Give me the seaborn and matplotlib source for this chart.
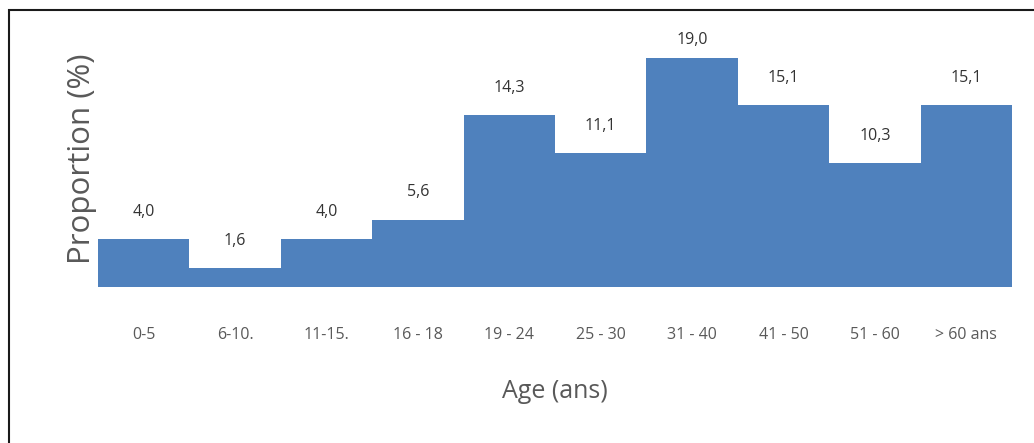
import matplotlib
matplotlib.use("Agg")
import matplotlib.pyplot as plt
import seaborn as sns
import pandas as pd

# age groups and proportions
age_groups = ['0-5', '6-10.', '11-15.', '16 - 18', '19 - 24', '25 - 30',
              '31 - 40', '41 - 50', '51 - 60', '> 60 ans']
proportions = [4.0, 1.6, 4.0, 5.6, 14.3, 11.1, 19.0, 15.1, 10.3, 15.1]

df = pd.DataFrame({'Age': age_groups, 'Proportion': proportions})

sns.set_style('white')
plt.rcParams['font.family'] = ['Open Sans', 'DejaVu Sans']

fig = plt.figure(figsize=(10.34, 4.43), dpi=100)
ax = fig.add_axes([0.0948, 0.352, 0.8839, 0.580])

sns.barplot(data=df, x='Age', y='Proportion', color='#4F81BD',
            width=1.0, saturation=1, linewidth=0, ax=ax)

ax.set_xlim(-0.5, 9.5)
ax.set_ylim(0, 21.3)
ax.axhline(0, color='#D9D9D9', lw=1.2, zorder=0)

for s in ax.spines.values():
    s.set_visible(False)
ax.set_yticks([])
ax.tick_params(axis='x', length=0, pad=29, labelsize=11.5, labelcolor='#595959')

ax.set_xlabel('Age (ans)', fontsize=18, color='#595959', labelpad=26)
ax.set_ylabel('Proportion (%)', fontsize=22.5, color='#595959', labelpad=1)

# value labels above the bars (comma decimal)
for i, v in enumerate(proportions):
    y = min(v + 2.24, 20.5)
    ax.text(i, y, f'{v:.1f}'.replace('.', ','), ha='center', va='center',
            fontsize=11.5, color='#333333')

# frame around the figure (cut off on right and bottom)
fig.patches.append(plt.Rectangle((9 / 1034, -0.1), 1.2, 1.1 - 10 / 443,
                                 transform=fig.transFigure, fill=False,
                                 edgecolor='#1a1a1a', lw=1.5))
fig.savefig('out.png', dpi=100)
